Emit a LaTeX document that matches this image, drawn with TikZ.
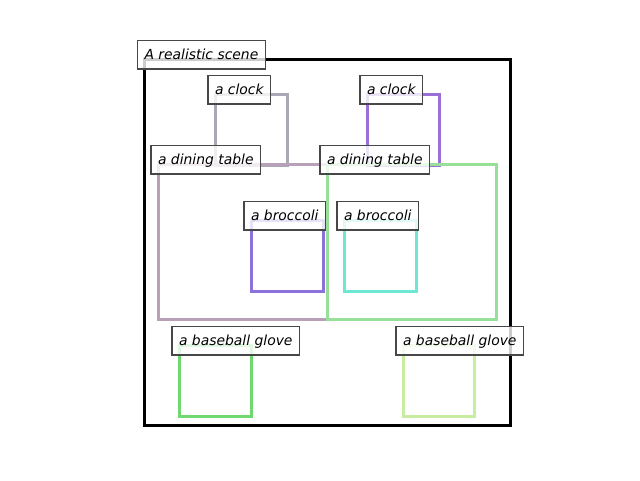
\documentclass[tikz,border=0pt]{standalone}
\usepackage{fontspec}
\setmainfont{DejaVu Sans}
\begin{document}
\begin{tikzpicture}[x=1pt,y=-1pt,
  obox/.style={line width=3pt,line join=miter},
  lab/.style={draw=black!72,line width=1.1pt,fill=white,fill opacity=0.8,text opacity=1,
    anchor=base west,inner xsep=7pt,inner ysep=6.5pt,text height=12pt,text depth=3.5pt,
    font=\fontsize{13.9pt}{16pt}\selectfont\itshape,outer sep=0pt}]
\definecolor{cclockA}{HTML}{AAA7B6}
\definecolor{cclockB}{HTML}{9A70D8}
\definecolor{ctableA}{HTML}{B8A0B8}
\definecolor{ctableB}{HTML}{98E09A}
\definecolor{cbrocA}{HTML}{8C70DC}
\definecolor{cbrocB}{HTML}{6EE8D6}
\definecolor{cgloveA}{HTML}{70D870}
\definecolor{cgloveB}{HTML}{C8ECA0}
\useasboundingbox[fill=white] (0,0) rectangle (640,480);
% boxes
\draw[obox,black] (144,59) rectangle (510,425);
\draw[obox,cclockA] (215,94) rectangle (287,165);
\draw[obox,cclockB] (367,94) rectangle (439,165);
\draw[obox,ctableA] (158,164) rectangle (327,319);
\draw[obox,ctableB] (327,164) rectangle (496,319);
\draw[obox,cbrocA] (251,220) rectangle (323,291);
\draw[obox,cbrocB] (344,220) rectangle (416,291);
\draw[obox,cgloveA] (179,345) rectangle (251,416);
\draw[obox,cgloveB] (403,345) rectangle (474,416);
% labels
\node[lab] (lscene) at (137.5,59) {A realistic scene};
\node[lab] (lclockA) at (208,94) {a clock};
\node[lab] (lclockB) at (360,94) {a clock};
\node[lab] (ltableA) at (151,164) {a dining table};
\node[lab] (ltableB) at (320,164) {a dining table};
\node[lab] (lbrocA) at (244,220) {a broccoli};
\node[lab] (lbrocB) at (337,220) {a broccoli};
\node[lab] (lgloveA) at (172,345) {a baseball glove};
\node[lab] (lgloveB) at (396,345) {a baseball glove};
\end{tikzpicture}
\end{document}
